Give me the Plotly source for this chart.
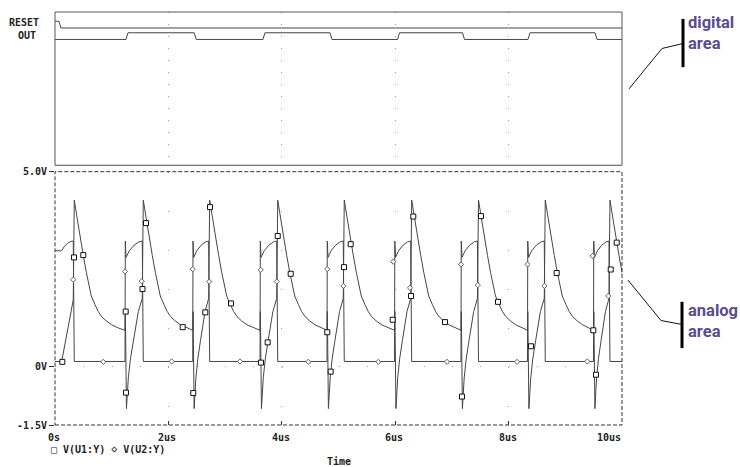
import plotly.graph_objects as go

# ---------------- data ----------------
X_TICKS = [0, 2, 4, 6, 8, 10]
X_TICK_LABELS = ["0s", "2us", "4us", "6us", "8us", "10us"]
Y_TICKS = [5.0, 0.0, -1.5]
Y_TICK_LABELS = ["5.0V", "0V", "-1.5V"]

# digital signals: time of each level change (us) and the level from then on
RESET_T = [0.0, 0.07]
RESET_LEVEL = [1, 0]
OUT_T = [0.0, 1.252, 2.455, 3.668, 4.850, 6.041, 7.187, 8.342, 9.524]
OUT_LEVEL = [0, 1, 0, 1, 0, 1, 0, 1, 0]

# analog event times (us): U1 peaks and U1 drops / U2 rises
PEAK_T = [0.340, 1.557, 2.728, 3.928, 5.102, 6.291, 7.469, 8.647, 9.788]
DROP_T = [1.235, 2.429, 3.616, 4.797, 5.988, 7.160, 8.333, 9.497]

# V(U1:Y)
U1_START_T = [0.0, 0.118, 0.322]
U1_START_V = [0.13, 0.13, 1.71]
U1_DECAY_DT = [0.0, 0.053, 0.118, 0.159, 0.212, 0.247, 0.300, 0.365, 0.423, 0.483, 0.564, 0.660, 0.776]
U1_DECAY_V = [4.27, 3.79, 3.15, 2.85, 2.42, 2.14, 1.81, 1.59, 1.41, 1.28, 1.17, 1.07, 0.99]
U1_DROP_DT = [0.0, 0.006, 0.025]
U1_DROP_V = [0.93, 1.41, -1.08]
U1_RAMP_S = [0.12, 0.25, 0.44, 0.60, 0.75, 1.0]
U1_RAMP_V = [-0.29, 0.19, 0.67, 1.04, 1.41, 1.75]

# V(U2:Y)
U2_START_T = [0.0, 0.118, 0.159, 0.220, 0.281, 0.322]
U2_START_V = [2.97, 2.97, 3.07, 3.16, 3.21, 3.22]
U2_LOW_V = 0.13
U2_JUMP_V = 3.22
U2_CURVE_S = [0.0, 0.2, 0.5, 0.8, 1.0]
U2_CURVE_V = [2.80, 2.97, 3.115, 3.20, 3.22]

# marker positions (us, V)
U1_MARK_T = [0.129, 0.335, 0.499, 1.247, 1.252, 1.543, 1.605, 2.252, 2.439, 2.651, 2.734,
             3.104, 3.633, 3.751, 3.928, 4.157, 4.802, 4.862, 5.097, 5.215, 5.956, 6.279,
             6.319, 6.878, 7.178, 7.513, 7.813, 8.395, 8.848, 9.494, 9.541, 9.801, 9.907]
U1_MARK_V = [0.12, 2.80, 2.86, 1.41, -0.67, 1.99, 3.68, 1.01, -0.68, 1.39, 4.09,
             1.62, 0.10, 0.62, 3.35, 2.38, 0.88, -0.13, 2.55, 3.14, 1.20, 1.81,
             3.85, 1.14, -0.77, 3.86, 1.66, 0.52, 2.40, 0.93, -0.21, 2.49, 3.18]
U2_MARK_T = [0.323, 0.852, 1.235, 1.529, 2.058, 2.429, 2.721, 3.263, 3.628, 3.910, 4.467,
             4.802, 5.085, 5.702, 5.966, 6.261, 6.914, 7.160, 7.457, 8.148, 8.333, 8.633,
             9.388, 9.483, 9.758]
U2_MARK_V = [2.23, 0.12, 2.44, 2.19, 0.13, 2.50, 2.18, 0.13, 2.48, 2.18, 0.12,
             2.50, 2.07, 0.12, 2.69, 2.02, 0.12, 2.62, 2.09, 0.12, 2.62, 2.07,
             0.13, 2.84, 1.81]

# ---------------- layout constants (pixels) ----------------
W, H = 740, 467
LEFT, RIGHT, TOP, BOTTOM = 55, 622, 6, 425
DIG_BOTTOM, AN_TOP = 161.5, 168
PLOT_W, PLOT_H = RIGHT - LEFT, BOTTOM - TOP


def px(x):
    return (x - LEFT) / PLOT_W


def py(y):
    return (BOTTOM - y) / PLOT_H


MONO = "DejaVu Sans Mono, Liberation Mono, monospace"
NARROW = "Roboto, Liberation Sans, sans-serif"
TRACE_COLOR = "#454545"
GRID_COLOR = "#a0a0a0"
PURPLE = "#5a4c8e"
EDGE = 0.035  # digital edge slant
RESET_ROW, OUT_ROW, ROW_AMP = 21.5, 19.7, 1.05

# ---------------- build traces ----------------
def step(times, levels, base, end):
    xs, ys = [], []
    for i, (t, lv) in enumerate(zip(times, levels)):
        if i == 0:
            xs.append(t); ys.append(base + ROW_AMP * lv)
        else:
            xs += [t, t + EDGE]
            ys += [base + ROW_AMP * levels[i - 1], base + ROW_AMP * lv]
    xs.append(end); ys.append(base + ROW_AMP * levels[-1])
    return xs, ys


T_END = X_TICKS[-1]
reset_x, reset_y = step(RESET_T, RESET_LEVEL, RESET_ROW, T_END)
out_x, out_y = step(OUT_T, OUT_LEVEL, OUT_ROW, T_END)

u1_t, u1_v = list(U1_START_T), list(U1_START_V)
for i, tp in enumerate(PEAK_T):
    for dt, val in zip(U1_DECAY_DT, U1_DECAY_V):
        u1_t.append(tp + dt); u1_v.append(val)
    if i < len(DROP_T):
        td, tn = DROP_T[i], PEAK_T[i + 1]
        for dt, val in zip(U1_DROP_DT, U1_DROP_V):
            u1_t.append(td + dt); u1_v.append(val)
        r0, r1 = td + U1_DROP_DT[-1], tn - 0.018
        for s, val in zip(U1_RAMP_S, U1_RAMP_V):
            u1_t.append(r0 + s * (r1 - r0)); u1_v.append(val)

u2_t, u2_v = list(U2_START_T), list(U2_START_V)
for i, tp in enumerate(PEAK_T):
    u2_t.append(tp); u2_v.append(U2_LOW_V)
    if i < len(DROP_T):
        td, tn = DROP_T[i], PEAK_T[i + 1]
        u2_t += [td, td + 0.005]; u2_v += [U2_LOW_V, U2_JUMP_V]
        c0, c1 = td + 0.018, tn - 0.018
        for s, val in zip(U2_CURVE_S, U2_CURVE_V):
            u2_t.append(c0 + s * (c1 - c0)); u2_v.append(val)
    else:
        u2_t.append(T_END); u2_v.append(U2_LOW_V)

fig = go.Figure()
line = dict(color=TRACE_COLOR, width=1)
fig.add_trace(go.Scatter(x=reset_x, y=reset_y, mode="lines", line=line, xaxis="x2", yaxis="y2", name="RESET"))
fig.add_trace(go.Scatter(x=out_x, y=out_y, mode="lines", line=line, xaxis="x2", yaxis="y2", name="OUT"))
fig.add_trace(go.Scatter(x=u2_t, y=u2_v, mode="lines", line=line, name="V(U2:Y)"))
fig.add_trace(go.Scatter(x=u1_t, y=u1_v, mode="lines", line=line, name="V(U1:Y)"))
fig.add_trace(go.Scatter(x=U2_MARK_T, y=U2_MARK_V, mode="markers", name="V(U2:Y) markers",
                         marker=dict(symbol="diamond", size=4, color="white",
                                     line=dict(color="#606060", width=1))))
fig.add_trace(go.Scatter(x=U1_MARK_T, y=U1_MARK_V, mode="markers", name="V(U1:Y) markers",
                         marker=dict(symbol="square", size=5, color="white",
                                     line=dict(color="#111111", width=1))))

dig_dom = [py(DIG_BOTTOM), 1.0]
an_dom = [0.0, py(AN_TOP)]
tickfont = dict(family=MONO, size=10, color="#222222", weight="bold")

fig.update_layout(
    width=W, height=H, autosize=False,
    margin=dict(l=LEFT, r=W - RIGHT, t=TOP, b=H - BOTTOM, pad=0),
    paper_bgcolor="white", plot_bgcolor="white",
    showlegend=False,
    xaxis=dict(range=[0, 10], domain=[0, 1], anchor="y", tickvals=X_TICKS,
               showticklabels=False, ticks="inside", ticklen=4, tickcolor="#333333",
               showgrid=True, gridcolor=GRID_COLOR, gridwidth=1, griddash="1px,38px",
               zeroline=False, showline=False),
    yaxis=dict(range=[-1.5, 5], domain=an_dom, anchor="x", tickvals=Y_TICKS,
               ticktext=Y_TICK_LABELS, ticks="outside", ticklen=5, tickcolor="#333333",
               tickfont=tickfont, showgrid=True, gridcolor=GRID_COLOR, gridwidth=1,
               griddash="1px,27.35px", zeroline=False, showline=False),
    xaxis2=dict(range=[0, 10], matches="x", domain=[0, 1], anchor="y2", tickvals=X_TICKS,
                showticklabels=False, ticks="", showgrid=True, gridcolor=GRID_COLOR,
                gridwidth=1, griddash="1px,11px", zeroline=False, showline=False),
    yaxis2=dict(range=[0, 24], domain=dig_dom, anchor="x2", showticklabels=False,
                ticks="", showgrid=False, zeroline=False, showline=False),
)

shapes = [
    dict(type="rect", xref="paper", yref="paper", x0=0, x1=1, y0=dig_dom[0], y1=1,
         line=dict(color="#555555", width=1), layer="above"),
    dict(type="rect", xref="paper", yref="paper", x0=0, x1=1, y0=0, y1=an_dom[1],
         line=dict(color="#333333", width=1, dash="4px,2px"), layer="above"),
    # callout lines and bars
    dict(type="path", xref="paper", yref="paper",
         path=f"M {px(629)},{py(84)} L {px(662)},{py(43)} L {px(683)},{py(38)}",
         line=dict(color="#111111", width=1)),
    dict(type="line", xref="paper", yref="paper", x0=px(683), x1=px(683), y0=py(13), y1=py(62),
         line=dict(color="black", width=3)),
    dict(type="path", xref="paper", yref="paper",
         path=f"M {px(628)},{py(278)} L {px(661)},{py(319)} L {px(682)},{py(323)}",
         line=dict(color="#111111", width=1)),
    dict(type="line", xref="paper", yref="paper", x0=px(682), x1=px(682), y0=py(300), y1=py(347),
         line=dict(color="black", width=3)),
]
fig.update_layout(shapes=shapes)

mono_font = dict(family=MONO, size=10, color="#222222", weight="bold")
ann = []
# digital signal names
ann.append(dict(text="RESET", x=px(41), y=py(17), xref="paper", yref="paper",
                xanchor="right", yanchor="middle", showarrow=False, font=mono_font))
ann.append(dict(text="OUT", x=px(38), y=py(29.5), xref="paper", yref="paper",
                xanchor="right", yanchor="middle", showarrow=False, font=mono_font))
# x tick labels
for v, lab in zip(X_TICKS, X_TICK_LABELS):
    ann.append(dict(text=lab, x=v, y=py(438), xref="x", yref="paper",
                    xanchor="right" if v == X_TICKS[-1] else "center", yanchor="middle",
                    xshift=1 if v == X_TICKS[-1] else -1,
                    showarrow=False, font=mono_font))
# legend and axis title
ann.append(dict(text="\u25a1 V(U1:Y) \u22c4 V(U2:Y)", x=px(49), y=py(449.5), xref="paper", yref="paper",
                xanchor="left", yanchor="middle", showarrow=False, font=mono_font))
ann.append(dict(text="Time", x=px(338.5), y=py(462), xref="paper", yref="paper",
                xanchor="center", yanchor="middle", showarrow=False, font=mono_font))
# callout labels
purple_font = dict(family=NARROW, size=16.5, color=PURPLE, weight="bold")
ann.append(dict(text="digital<br>area", x=px(686), y=py(5), xref="paper", yref="paper",
                xanchor="left", yanchor="top", align="left", showarrow=False, font=purple_font))
ann.append(dict(text="analog<br>area", x=px(686), y=py(297), xref="paper", yref="paper",
                xanchor="left", yanchor="top", align="left", showarrow=False, font=purple_font))
fig.update_layout(annotations=ann)

fig.write_html("out.html", config={"displayModeBar": False},
               post_script="document.body.style.margin='0';")
